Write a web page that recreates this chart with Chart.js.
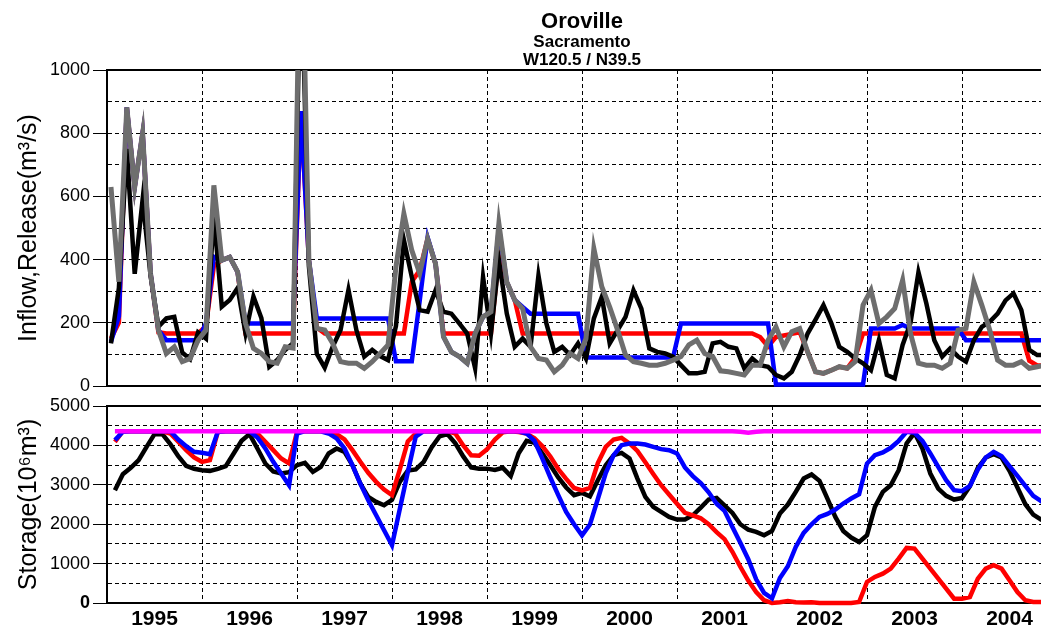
<!DOCTYPE html>
<html>
<head>
<meta charset="utf-8">
<title>Oroville</title>
<script src="https://cdn.jsdelivr.net/npm/chart.js@4.4.1/dist/chart.umd.min.js"></script>
<style>
  html, body { margin: 0; padding: 0; background: #fff; overflow: hidden; }
  #wrap { position: relative; width: 1041px; height: 629px; overflow: hidden; }
  #flowChart { position: absolute; left: 0; top: 0; }
  #storChart { position: absolute; left: 0; top: 392px; }
</style>
</head>
<body>
<div id="wrap">
  <canvas id="flowChart" width="1080" height="400"></canvas>
  <canvas id="storChart" width="1080" height="237"></canvas>
</div>
<script>
// monthly values, Jan 1995 .. Dec 2004 (one row per year)
const years = ['1995', '1996', '1997', '1998', '1999', '2000', '2001', '2002', '2003', '2004'];

// upper panel, m3/s
const flowBlack = [
  135, 310, 750, 355, 590, 350, 188, 214, 219, 106, 85, 170,
  150, 540, 251, 272, 310, 167, 283, 215, 61, 82, 114, 135,
  1400, 380, 102, 58, 124, 177, 304, 177, 93, 114, 95, 82,
  190, 462, 345, 240, 235, 303, 235, 229, 198, 166, 56, 345,
  166, 398, 229, 124, 150, 124, 350, 198, 108, 124, 98, 135,
  87, 214, 282, 135, 177, 219, 303, 245, 119, 108, 103, 93,
  66, 40, 40, 45, 135, 140, 124, 119, 56, 87, 66, 61,
  35, 24, 45, 98, 166, 210, 256, 198, 124, 108, 87, 72,
  50, 145, 35, 24, 130, 200, 360, 261, 145, 93, 119, 93,
  77, 145, 187, 203, 229, 271, 293, 240, 114, 98, 98, 100
];
const flowGray = [
  630, 330, 882, 630, 800, 356, 177, 103, 124, 77, 87, 145,
  177, 635, 398, 408, 361, 198, 119, 103, 77, 72, 124, 120,
  1600, 398, 182, 177, 135, 77, 72, 72, 56, 77, 103, 130,
  377, 545, 429, 356, 466, 387, 156, 108, 93, 72, 166, 219,
  235, 514, 329, 272, 245, 124, 87, 82, 45, 66, 103, 87,
  150, 435, 314, 250, 177, 98, 77, 72, 66, 66, 72, 82,
  93, 130, 145, 103, 93, 48, 45, 40, 35, 66, 66, 145,
  187, 124, 172, 182, 108, 45, 40, 50, 61, 56, 77, 256,
  303, 198, 219, 245, 335, 166, 72, 66, 66, 56, 72, 177,
  182, 329, 256, 177, 82, 66, 66, 77, 56, 61, 66, 70
];
const flowBlue = [
  140, 220, 882, 630, 800, 356, 177, 145, 145, 145, 145, 145,
  198, 409, 398, 408, 361, 198, 198, 198, 198, 198, 198, 198,
  870, 398, 214, 214, 214, 214, 214, 214, 214, 214, 214, 214,
  78, 78, 78, 270, 470, 387, 156, 108, 93, 72, 166, 219,
  235, 500, 329, 272, 250, 229, 229, 229, 229, 229, 229, 229,
  90, 90, 90, 90, 90, 90, 90, 90, 90, 90, 90, 90,
  198, 198, 198, 198, 198, 198, 198, 198, 198, 198, 198, 198,
  5, 5, 5, 5, 5, 5, 5, 5, 5, 5, 5, 5,
  182, 182, 182, 182, 193, 182, 182, 182, 182, 182, 182, 182,
  145, 145, 145, 145, 145, 145, 145, 145, 145, 145, 145, 145
];
const flowRed = [
  150, 200, 882, 630, 800, 356, 170, 166, 166, 166, 166, 166,
  190, 380, 398, 408, 361, 166, 166, 166, 166, 166, 166, 166,
  870, 398, 185, 166, 166, 166, 166, 166, 166, 166, 166, 166,
  166, 166, 330, 366, 466, 387, 166, 166, 166, 166, 166, 166,
  166, 410, 329, 272, 166, 166, 166, 166, 166, 166, 166, 166,
  166, 166, 166, 166, 166, 166, 166, 166, 166, 166, 166, 166,
  166, 166, 166, 166, 166, 166, 166, 166, 166, 166, 155, 125,
  155, 160, 165, 170, 108, 45, 40, 50, 61, 56, 90, 166,
  166, 166, 166, 166, 166, 166, 166, 166, 166, 166, 166, 166,
  166, 166, 166, 166, 166, 166, 166, 166, 80, 65, 65, 65
];

// lower panel, 10^6 m3
const storBlack = [
  2863, 3270, 3430, 3625, 3964, 4286, 4286, 4032, 3727, 3481, 3405, 3371,
  3354, 3405, 3473, 3795, 4116, 4286, 3922, 3541, 3337, 3286, 3320, 3498,
  3557, 3329, 3456, 3795, 3922, 3837, 3498, 3032, 2693, 2566, 2482, 2620,
  3080, 3360, 3390, 3580, 3950, 4230, 4290, 4050, 3720, 3440, 3410, 3410,
  3375, 3430, 3220, 3800, 4116, 4066, 3795, 3498, 3185, 2931, 2736, 2795,
  2710, 3117, 3498, 3752, 3811, 3667, 3159, 2693, 2439, 2312, 2185, 2117,
  2117, 2227, 2422, 2626, 2668, 2480, 2287, 1999, 1863, 1804, 1719, 1829,
  2270, 2499, 2820, 3159, 3261, 3100, 2651, 2185, 1829, 1660, 1550, 1719,
  2439, 2820, 2990, 3371, 4049, 4320, 3922, 3286, 2905, 2719, 2626, 2668,
  2964, 3430, 3693, 3778, 3693, 3354, 2931, 2507, 2245, 2117, 2060, 2020
];
const storRed = [
  4091, 4360, 4360, 4360, 4360, 4360, 4360, 4303, 4091, 3879, 3693, 3583,
  3625, 4345, 4360, 4360, 4360, 4360, 4303, 4091, 3879, 3667, 3540, 4345,
  4360, 4360, 4360, 4340, 4286, 4150, 3879, 3583, 3303, 3075, 2880, 2736,
  3400, 4100, 4300, 4360, 4360, 4360, 4360, 4300, 4000, 3750, 3740, 3900,
  4150, 4330, 4360, 4340, 4300, 4180, 3980, 3720, 3400, 3150, 2920, 2860,
  2920, 3550, 3960, 4150, 4190, 4050, 3860, 3570, 3275, 2990, 2755, 2520,
  2290, 2225, 2150, 2000, 1800, 1620, 1300, 920, 570, 280, 70, 0,
  20, 50, 20, 10, 20, 0, 0, 0, 0, 0, 25, 534,
  661, 745, 872, 1127, 1398, 1380, 1127, 872, 618, 364, 110, 110,
  152, 618, 872, 957, 872, 576, 280, 68, 25, 25, 20, 20
];
const storBlue = [
  4133, 4345, 4360, 4360, 4360, 4360, 4360, 4360, 4150, 3980, 3837, 3811,
  3778, 4345, 4360, 4360, 4360, 4360, 4201, 3922, 3583, 3286, 2990, 4300,
  4360, 4360, 4360, 4303, 4176, 3922, 3498, 3032, 2609, 2228, 1846, 1465,
  2400, 3326, 4225, 4360, 4360, 4360, 4360, 4360, 4360, 4360, 4360, 4360,
  4360, 4360, 4360, 4360, 4303, 4116, 3667, 3185, 2736, 2312, 1999, 1718,
  1990, 2640, 3300, 3752, 4006, 4049, 4049, 4023, 3964, 3905, 3879, 3795,
  3440, 3220, 3045, 2810, 2520, 2340, 1930, 1530, 1110, 600, 254, 120,
  635, 932, 1423, 1779, 1999, 2185, 2261, 2372, 2524, 2651, 2761, 3540,
  3752, 3820, 3939, 4116, 4345, 4320, 4116, 3795, 3456, 3117, 2863, 2837,
  2973, 3388, 3693, 3837, 3727, 3473, 3227, 2973, 2719, 2583, 2450, 2320
];
const storMagenta = [
  4360, 4360, 4360, 4360, 4360, 4360, 4360, 4360, 4360, 4360, 4360, 4360,
  4360, 4360, 4360, 4360, 4360, 4360, 4360, 4360, 4360, 4360, 4360, 4360,
  4360, 4360, 4360, 4360, 4360, 4360, 4360, 4360, 4360, 4360, 4360, 4360,
  4360, 4360, 4360, 4360, 4360, 4360, 4360, 4360, 4360, 4360, 4360, 4360,
  4360, 4360, 4360, 4360, 4360, 4360, 4360, 4360, 4360, 4360, 4360, 4360,
  4360, 4360, 4360, 4360, 4360, 4360, 4360, 4360, 4360, 4360, 4360, 4360,
  4360, 4360, 4360, 4360, 4360, 4360, 4360, 4345, 4320, 4345, 4360, 4360,
  4360, 4360, 4360, 4360, 4360, 4360, 4360, 4360, 4360, 4360, 4360, 4360,
  4360, 4360, 4360, 4360, 4360, 4360, 4360, 4360, 4360, 4360, 4360, 4360,
  4360, 4360, 4360, 4360, 4360, 4360, 4360, 4360, 4360, 4360, 4360, 4360
];

Chart.defaults.font.family = '"Liberation Sans", Arial, Helvetica, sans-serif';
Chart.defaults.color = '#000';
Chart.defaults.animation = false;

const MONTHS = years.length * 12;
const PLOT_LEFT = 107;
const DASH = [4, 3];
const NONE = 'rgba(0,0,0,0)';

// flow is plotted mid-month, storage at month end
function line(values, color, width, offset) {
  return {
    data: values.map((v, i) => ({ x: i + offset, y: v })),
    borderColor: color,
    borderWidth: width,
    pointRadius: 0,
    tension: 0,
    fill: false,
    clip: { left: 0, top: 0, right: 0, bottom: 3 },
    xAxisID: 'x',
    yAxisID: 'y'
  };
}

function yearAxis(showLabels, height) {
  return {
    type: 'linear',
    min: 0,
    max: MONTHS,
    afterBuildTicks: s => {
      const t = [];
      for (let m = 0; m <= MONTHS; m += 6) t.push({ value: m });
      s.ticks = t;
    },
    afterFit: s => { s.height = height; },
    ticks: {
      display: showLabels,
      autoSkip: false,
      maxRotation: 0,
      padding: 4,
      font: { size: 21, weight: 'bold' },
      callback: v => (v % 12 === 6 ? years[(v - 6) / 12] : '')
    },
    grid: {
      drawTicks: false,
      lineWidth: 1,
      color: c => (c.tick && c.tick.value % 12 === 0 ? '#000' : NONE)
    },
    border: { display: true, color: '#000', width: 2, dash: DASH }
  };
}

function frameTop() {
  return {
    type: 'linear',
    position: 'top',
    min: 0,
    max: MONTHS,
    afterFit: s => { s.height = 0; },
    ticks: { display: false },
    grid: { display: false, drawTicks: false },
    border: { display: true, color: '#000', width: 2 }
  };
}

function valueAxis(max, step, labelEvery, title, boldZero) {
  return {
    min: 0,
    max: max,
    afterFit: s => { s.width = PLOT_LEFT; },
    ticks: {
      stepSize: step,
      autoSkip: false,
      padding: 3,
      font: c => ({ size: 18, weight: boldZero && c.tick && c.tick.value === 0 ? 'bold' : 'normal' }),
      callback: v => (v % labelEvery === 0 ? v : '')
    },
    grid: {
      color: '#000',
      lineWidth: 1,
      tickLength: 14,
      tickColor: c => (c.tick && c.tick.value % labelEvery === 0 ? '#000' : NONE)
    },
    border: { color: '#000', width: 2, dash: DASH },
    title: { display: true, text: title, font: { size: 25 }, padding: { top: 14, bottom: 0 } }
  };
}

new Chart(document.getElementById('flowChart'), {
  type: 'line',
  data: {
    datasets: [
      line(flowGray, '#6e6e6e', 5, 0.5),
      line(flowBlack, '#000000', 4.5, 0.5),
      line(flowBlue, '#0000ff', 4.5, 0.5),
      line(flowRed, '#ff0000', 4.5, 0.5)
    ]
  },
  options: {
    responsive: false,
    devicePixelRatio: 1,
    layout: { padding: { left: 0, right: 23, top: 0, bottom: 14 } },
    scales: {
      x: yearAxis(false, 0),
      xTop: frameTop(),
      y: valueAxis(1000, 100, 200, 'Inflow,Release(m³/s)', false)
    },
    plugins: {
      legend: { display: false },
      tooltip: { enabled: false },
      title: {
        display: true,
        text: 'Oroville',
        fullSize: false,
        color: '#000',
        font: { size: 22, weight: 'bold', lineHeight: 1 },
        padding: { top: 11, bottom: 0 }
      },
      subtitle: {
        display: true,
        text: ['Sacramento', 'W120.5 / N39.5'],
        fullSize: false,
        color: '#000',
        font: { size: 17, weight: 'bold', lineHeight: 18 / 17 },
        padding: { top: 0, bottom: 1 }
      }
    }
  }
});

new Chart(document.getElementById('storChart'), {
  type: 'line',
  data: {
    datasets: [
      line(storMagenta, '#ff00ff', 4.5, 1),
      line(storBlue, '#0000ff', 4.5, 1),
      line(storRed, '#ff0000', 4.5, 1),
      line(storBlack, '#000000', 4.5, 1)
    ]
  },
  options: {
    responsive: false,
    devicePixelRatio: 1,
    layout: { padding: { left: 0, right: 23, top: 14, bottom: 0 } },
    scales: {
      x: yearAxis(true, 26),
      xTop: frameTop(),
      y: valueAxis(5000, 500, 1000, 'Storage(10⁶m³)', true)
    },
    plugins: {
      legend: { display: false },
      tooltip: { enabled: false }
    }
  }
});
</script>
</body>
</html>
